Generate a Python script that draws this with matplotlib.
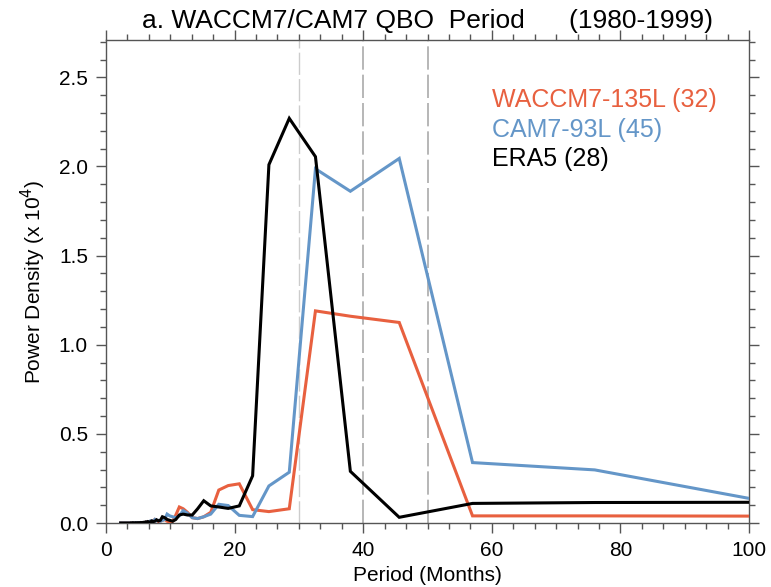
import matplotlib
matplotlib.use('Agg')
import matplotlib.pyplot as plt
from matplotlib.ticker import MultipleLocator
import numpy as np

plt.rcParams['font.family'] = ['Liberation Sans', 'DejaVu Sans']

# spectra are on the Fourier periods of a 228-month record (harmonics 2..100)
n_months = 228
harmonic = np.arange(2, 101)
period = n_months / harmonic

# power density (x 10^4), one value per harmonic 2..100
era5 = [0.117, 0.115, 0.11, 0.032, 0.29, 2.055, 2.27, 2.01, 0.265, 0.096,
        0.082, 0.09, 0.096, 0.125, 0.08, 0.045, 0.045, 0.05, 0.045, 0.02,
        0.01, 0.015, 0.02, 0.03, 0.035, 0.015,
        0.012, 0.018, 0.01, 0.008, 0.012, 0.006, 0.005, 0.008, 0.004, 0.006,
        0.003, 0.004, 0.003,
        0.002, 0.003, 0.002, 0.002, 0.001, 0.002, 0.001, 0.001, 0.002, 0.001,
        0.001, 0.001, 0.0, 0.001, 0.0, 0.001, 0.0, 0.0, 0.001, 0.0,
        0.0, 0.0, 0.0, 0.0, 0.0, 0.0, 0.0, 0.0, 0.0, 0.0,
        0.0, 0.0, 0.0, 0.0, 0.0, 0.0, 0.0, 0.0, 0.0, 0.0,
        0.0, 0.0, 0.0, 0.0, 0.0, 0.0, 0.0, 0.0, 0.0, 0.0,
        0.0, 0.0, 0.0, 0.0, 0.0, 0.0, 0.0, 0.0, 0.0, 0.0]
waccm = [0.038, 0.04, 0.04, 1.125, 1.16, 1.19, 0.08, 0.064, 0.075, 0.22,
         0.21, 0.185, 0.06, 0.035, 0.025, 0.03, 0.06, 0.08, 0.09, 0.045,
         0.01, 0.005, 0.01, 0.02, 0.015, 0.01,
         0.008, 0.015, 0.02, 0.012, 0.006, 0.01, 0.004, 0.006, 0.003, 0.005,
         0.002, 0.003, 0.002,
         0.002, 0.001, 0.002, 0.001, 0.001, 0.002, 0.001, 0.001, 0.0, 0.001,
         0.001, 0.0, 0.001, 0.0, 0.0, 0.001, 0.0, 0.0, 0.0, 0.0,
         0.0, 0.0, 0.0, 0.0, 0.0, 0.0, 0.0, 0.0, 0.0, 0.0,
         0.0, 0.0, 0.0, 0.0, 0.0, 0.0, 0.0, 0.0, 0.0, 0.0,
         0.0, 0.0, 0.0, 0.0, 0.0, 0.0, 0.0, 0.0, 0.0, 0.0,
         0.0, 0.0, 0.0, 0.0, 0.0, 0.0, 0.0, 0.0, 0.0, 0.0]
cam = [0.045, 0.298, 0.339, 2.045, 1.861, 1.987, 0.285, 0.208, 0.036, 0.043,
       0.098, 0.105, 0.05, 0.035, 0.025, 0.03, 0.055, 0.07, 0.04, 0.03,
       0.035, 0.04, 0.05, 0.02, 0.015, 0.01,
       0.015, 0.012, 0.02, 0.01, 0.008, 0.012, 0.006, 0.004, 0.005, 0.003,
       0.004, 0.002, 0.003,
       0.002, 0.002, 0.001, 0.002, 0.001, 0.001, 0.001, 0.002, 0.001, 0.0,
       0.001, 0.001, 0.0, 0.0, 0.001, 0.0, 0.0, 0.0, 0.0, 0.0,
       0.0, 0.0, 0.0, 0.0, 0.0, 0.0, 0.0, 0.0, 0.0, 0.0,
       0.0, 0.0, 0.0, 0.0, 0.0, 0.0, 0.0, 0.0, 0.0, 0.0,
       0.0, 0.0, 0.0, 0.0, 0.0, 0.0, 0.0, 0.0, 0.0, 0.0,
       0.0, 0.0, 0.0, 0.0, 0.0, 0.0, 0.0, 0.0, 0.0, 0.0]

names = ['WACCM7-135L (32)', 'CAM7-93L (45)', 'ERA5 (28)']
red = '#E8603F'
blue = '#6496C8'

fig = plt.figure(figsize=(7.71, 5.87), dpi=100)
ax = fig.add_axes([0.1375, 0.109, 0.834, 0.823])

# reference periods
ax.axvline(30, color='#cccccc', lw=1.0, dashes=(16, 3), zorder=1)
ax.axvline(40, color='#aaaaaa', lw=1.2, dashes=(14, 3), zorder=1)
ax.axvline(50, color='#aaaaaa', lw=1.2, dashes=(14, 3), zorder=1)

ax.plot(period, waccm, color=red, lw=2.2, solid_joinstyle='miter', zorder=3)
ax.plot(period, cam, color=blue, lw=2.2, solid_joinstyle='miter', zorder=3)
ax.plot(period, era5, color='black', lw=2.2, solid_joinstyle='miter', zorder=4)

ax.set_xlim(0, 100)
ax.set_ylim(0, 2.71)
ax.xaxis.set_major_locator(MultipleLocator(20))
ax.xaxis.set_minor_locator(MultipleLocator(20 / 6))
ax.yaxis.set_major_locator(MultipleLocator(0.5))
ax.yaxis.set_minor_locator(MultipleLocator(0.1))
ax.yaxis.set_major_formatter(plt.FormatStrFormatter('%.1f'))

for s in ax.spines.values():
    s.set_color('#555555')
    s.set_linewidth(1.0)
ax.tick_params(which='both', direction='out', top=True, right=True,
               color='#555555', width=1.0, labelsize=15)
ax.tick_params(which='major', length=7, pad=6)
ax.tick_params(which='minor', length=4)

ax.set_xlabel('Period (Months)', fontsize=15, labelpad=4)
ax.set_ylabel(r'Power Density (x 10$^{4}$)', fontsize=15, labelpad=8)

fig.text(0.554, 0.952, 'a. WACCM7/CAM7 QBO  Period      (1980-1999)',
         ha='center', va='baseline', fontsize=19)

ytxt = [2.375, 2.205, 2.04]
for name, c, y in zip(names, [red, blue, 'black'], ytxt):
    ax.text(60.0, y, name, color=c, fontsize=18, va='center', ha='left')

fig.savefig('out.png', dpi=100)
